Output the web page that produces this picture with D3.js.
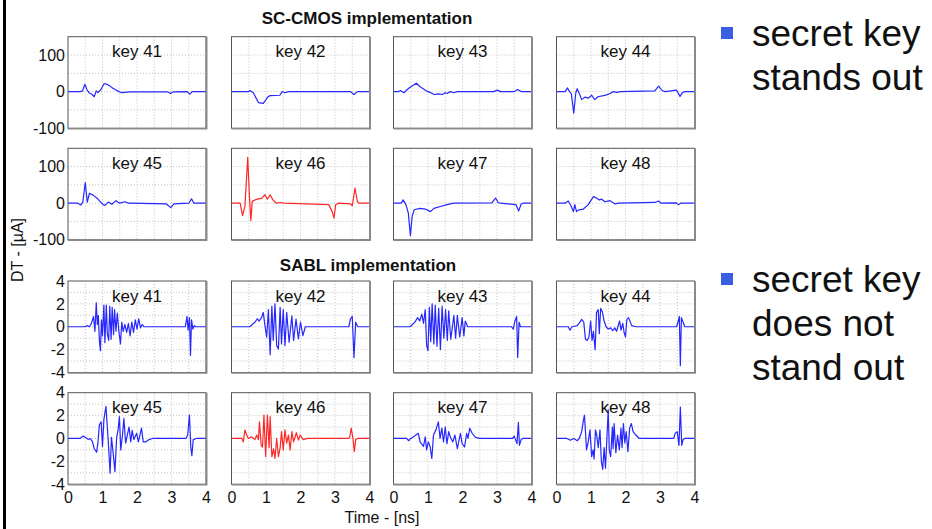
<!DOCTYPE html>
<html>
<head>
<meta charset="utf-8">
<script src="https://cdn.jsdelivr.net/npm/d3@7"></script>
<style>
  html, body { margin: 0; padding: 0; background: #fff; }
  svg { display: block; font-family: Arial, "Liberation Sans", Helvetica, sans-serif; }
</style>
</head>
<body>
<svg id="chart" width="932" height="529"></svg>
<script>
// ---- data -------------------------------------------------------------
const keys = [41, 42, 43, 44, 45, 46, 47, 48];
const secretKey = 46;
const timeTicks = [0, 1, 2, 3, 4];
const scTicks = [-100, 0, 100];
const sablTicks = [-4, -2, 0, 2, 4];

// SC-CMOS differential traces, [time ns, current uA]
const sc41 = [[0,0],[0.35,0],[0.42,2],[0.49,20],[0.55,5],[0.62,-4],[0.7,-8],[0.76,-14],[0.82,2],[0.87,-3],[0.95,5],[1.05,22],[1.15,19],[1.22,15],[1.3,9],[1.38,5],[1.48,0],[1.55,-3],[1.65,-2],[1.8,-1],[2.9,-1],[2.97,-5],[3.05,-1],[3.45,0],[3.53,-7],[3.6,0],[4,0]];
const sc42 = [[0,0],[0.5,0],[0.53,3],[0.63,-3],[0.78,-30],[0.92,-32],[1.0,-22],[1.05,-15],[1.12,-11],[1.4,-10],[1.47,0],[1.55,-3],[1.65,0],[3.45,0],[3.55,-8],[3.65,0],[4,0]];
const sc43 = [[0,0],[0.15,0],[0.2,3],[0.3,-3],[0.45,10],[0.66,23],[0.79,12],[0.95,2],[1.05,-2],[1.18,-8],[1.3,-6],[1.41,-8],[1.5,-3],[1.55,-5],[1.65,0],[1.75,-3],[1.85,0],[2.9,0],[3.01,4],[3.1,0],[3.5,0],[3.6,6],[3.7,0],[4,0]];
const sc44 = [[0,0],[0.25,0],[0.32,10],[0.38,0],[0.43,-6],[0.5,-59],[0.56,-3],[0.6,8],[0.66,-5],[0.73,-22],[0.82,-15],[0.92,-18],[1.02,-10],[1.11,-22],[1.2,-14],[1.36,-11],[1.45,-9],[1.55,-5],[1.65,0],[1.75,-2],[1.85,0],[2.85,2],[2.96,15],[3.06,3],[3.15,0],[3.48,4],[3.58,-13],[3.65,-3],[3.72,0],[4,0]];
const sc45 = [[0,0],[0.28,0],[0.37,-5],[0.43,3],[0.5,56],[0.56,3],[0.62,27],[0.73,22],[0.85,13],[0.97,0],[1.07,-6],[1.17,3],[1.27,-3],[1.39,7],[1.5,0],[1.65,4],[1.75,0],[2.85,-2],[2.98,-12],[3.07,-2],[3.5,0],[3.58,12],[3.65,0],[4,0]];
const sc46 = [[0,0],[0.25,0],[0.32,-34],[0.39,-8],[0.47,125],[0.52,18],[0.56,-47],[0.6,5],[0.68,9],[0.78,12],[0.88,14],[0.97,23],[1.04,11],[1.12,23],[1.2,9],[1.3,0],[1.42,2],[1.52,0],[2.82,-4],[2.92,-23],[2.97,-41],[3.02,-4],[3.1,0],[3.45,-2],[3.5,-7],[3.58,41],[3.65,4],[3.7,0],[4,0]];
const sc47 = [[0,0],[0.22,0],[0.28,9],[0.36,-4],[0.43,-27],[0.49,-89],[0.54,-36],[0.6,-18],[0.77,-14],[0.92,-16],[1.07,-23],[1.17,-14],[1.36,-9],[1.55,-4],[1.75,0],[2.85,1],[2.96,14],[3.03,2],[3.1,0],[3.55,-4],[3.63,-21],[3.7,-2],[3.75,0],[4,0]];
const sc48 = [[0,0],[0.25,0],[0.34,6],[0.42,-7],[0.49,-23],[0.53,-4],[0.58,-23],[0.65,-18],[0.78,-16],[0.92,-4],[1.07,18],[1.16,14],[1.24,9],[1.31,11],[1.4,4],[1.55,7],[1.7,-2],[1.8,0],[2.85,2],[2.96,6],[3.03,0],[3.47,1],[3.53,-4],[3.6,0],[4,0]];

// SABL differential traces, [time ns, current uA]
const sabl41 = [[0,0],[0.5,0],[0.55,0.1],[0.62,0],[0.68,0.3],[0.74,0.9],[0.78,-0.4],[0.82,2.1],[0.85,0.2],[0.88,1.0],[0.91,-1.2],[0.94,-2.1],[0.97,0.6],[1.0,-0.8],[1.04,1.9],[1.07,-1.4],[1.11,1.9],[1.14,-0.6],[1.18,-1.2],[1.21,1.8],[1.25,-1.1],[1.28,1.7],[1.32,-0.7],[1.35,1.5],[1.39,-0.4],[1.43,1.2],[1.47,-0.3],[1.52,-1.5],[1.56,0.4],[1.6,-0.4],[1.65,0.2],[1.7,-0.5],[1.75,0.3],[1.8,-0.8],[1.85,0.4],[1.9,-0.5],[1.95,0.6],[2.0,-0.2],[2.05,0.7],[2.1,-0.1],[2.15,0.2],[2.2,0],[3.4,0],[3.45,0.9],[3.48,-0.3],[3.52,0.8],[3.55,-2.5],[3.58,0.6],[3.62,-0.2],[3.66,0.1],[3.7,0],[4,0]];
const sabl42 = [[0,0],[0.53,0],[0.6,0.2],[0.68,0.4],[0.75,0.7],[0.8,0.5],[0.87,0.8],[0.92,1.25],[0.97,0.1],[1.02,-0.9],[1.07,1.5],[1.12,-2.45],[1.17,1.8],[1.21,-1.2],[1.26,2.0],[1.31,-1.65],[1.36,-1.95],[1.41,1.7],[1.45,-1.5],[1.5,1.5],[1.55,-1.65],[1.6,1.25],[1.67,-1.35],[1.75,0.95],[1.8,-1.2],[1.87,0.67],[1.94,-1.07],[2.0,0.4],[2.07,-0.78],[2.14,0],[2.2,0],[3.4,0],[3.45,0.7],[3.5,0.9],[3.55,-2.7],[3.6,0.4],[3.66,0],[4,0]];
const sabl43 = [[0,0],[0.48,0],[0.55,0.2],[0.62,0.4],[0.7,0.8],[0.76,0.5],[0.82,1.1],[0.87,0.3],[0.92,1.5],[0.96,-1.6],[1.0,-2.1],[1.04,1.7],[1.08,-1.3],[1.12,2.0],[1.17,-1.5],[1.21,1.9],[1.26,-1.7],[1.31,1.6],[1.36,-2.0],[1.41,1.8],[1.46,-1.0],[1.51,1.5],[1.56,-1.2],[1.6,1.4],[1.66,-1.1],[1.75,1.0],[1.8,-1.0],[1.85,1.0],[1.92,-0.9],[1.99,0.8],[2.04,-0.8],[2.08,0.5],[2.15,0],[2.23,0],[3.42,0],[3.47,-0.2],[3.52,0.5],[3.57,0.9],[3.6,-2.7],[3.64,0.4],[3.68,0],[4,0]];
const sabl44 = [[0,0],[0.34,0],[0.39,-0.3],[0.45,0],[0.6,0.1],[0.68,0.4],[0.73,0.65],[0.79,0.4],[0.84,-1.1],[0.89,-1.2],[0.94,-0.9],[0.99,0.5],[1.03,-1.2],[1.07,-0.4],[1.12,-2.0],[1.16,1.25],[1.21,1.5],[1.24,-0.6],[1.28,1.6],[1.33,1.3],[1.38,0.5],[1.44,0],[1.5,-0.2],[1.57,-0.1],[1.63,-0.35],[1.69,-0.1],[1.74,-0.4],[1.78,0],[1.83,0.5],[1.87,-0.3],[1.92,0.3],[1.96,-0.5],[2.0,-0.9],[2.04,0.65],[2.09,0.8],[2.18,0.1],[2.3,0],[3.48,0],[3.53,0.5],[3.56,0.9],[3.59,-3.4],[3.62,0.8],[3.67,0.4],[3.72,0],[4,0]];
const sabl45 = [[0,0],[0.35,0],[0.43,0.2],[0.5,0.1],[0.59,-0.1],[0.65,0],[0.71,-0.3],[0.76,-0.9],[0.83,-1.2],[0.87,-0.3],[0.91,1.2],[0.96,1.45],[1.0,-0.7],[1.04,1.65],[1.1,2.8],[1.14,1.0],[1.17,-0.4],[1.22,-3.05],[1.26,0.1],[1.31,-1.3],[1.36,-2.9],[1.41,0.1],[1.45,0.7],[1.49,1.9],[1.53,-1.0],[1.58,0.3],[1.62,1.75],[1.67,-0.4],[1.72,0.3],[1.77,1.0],[1.82,-0.3],[1.86,0.7],[1.91,-0.1],[1.99,0.45],[2.04,-0.3],[2.13,0.9],[2.18,-0.3],[2.25,-0.3],[2.35,-0.1],[2.45,0],[3.42,0],[3.47,0.3],[3.52,2.05],[3.56,-0.8],[3.59,-1.5],[3.63,-0.1],[3.72,0],[4,0]];
const sabl46 = [[0,0],[0.3,0],[0.34,-0.3],[0.39,0.75],[0.44,0.3],[0.49,0],[0.58,0.15],[0.68,-0.1],[0.73,0.3],[0.78,-0.1],[0.81,1.45],[0.86,-0.6],[0.9,-0.75],[0.94,2.05],[0.99,-1.6],[1.04,2.05],[1.09,-0.8],[1.12,1.9],[1.17,-1.6],[1.22,-0.9],[1.26,-1.75],[1.31,0],[1.36,-1.6],[1.41,-0.8],[1.45,0.6],[1.5,-1.0],[1.55,0.75],[1.6,-0.4],[1.65,0.3],[1.7,-1.0],[1.75,0.6],[1.8,-0.3],[1.88,0.5],[1.94,-0.15],[1.99,0.3],[2.08,-0.1],[2.2,0],[3.4,0],[3.43,0.15],[3.47,0.9],[3.52,0],[3.56,-1.15],[3.6,-0.1],[3.66,0],[4,0]];
const sabl47 = [[0,0],[0.38,0],[0.44,-0.2],[0.5,0],[0.58,0.15],[0.72,0.45],[0.77,-0.3],[0.87,-0.7],[0.92,0.15],[0.96,-1.0],[1.01,-0.3],[1.06,-0.7],[1.11,-1.75],[1.16,0.3],[1.23,0.75],[1.3,1.45],[1.35,0],[1.4,0.9],[1.45,-0.3],[1.5,1.0],[1.55,-0.45],[1.6,0.6],[1.65,0.1],[1.72,-0.3],[1.78,0.3],[1.85,-0.9],[1.94,0.45],[1.99,-0.45],[2.06,-0.75],[2.12,0.45],[2.16,0],[2.21,0.9],[2.28,0.45],[2.38,0.1],[2.5,0],[3.45,0],[3.5,0.2],[3.58,-0.45],[3.62,1.4],[3.65,-0.6],[3.7,-0.1],[3.75,0],[4,0]];
const sabl48 = [[0,0],[0.3,0],[0.4,-0.15],[0.5,0],[0.6,-0.2],[0.66,0],[0.73,0.6],[0.78,1.6],[0.81,2.05],[0.84,0.6],[0.87,-1.0],[0.92,-0.3],[0.97,0.75],[1.02,-1.6],[1.06,-1.0],[1.09,-1.8],[1.13,0.75],[1.16,0.4],[1.21,-0.8],[1.26,0.75],[1.3,-2.0],[1.34,-2.7],[1.38,-0.8],[1.42,-2.6],[1.46,0],[1.5,2.5],[1.53,-1.0],[1.57,-1.6],[1.62,1.0],[1.64,-0.9],[1.67,1.3],[1.72,-1.25],[1.77,0.3],[1.82,-1.0],[1.87,0.9],[1.9,-0.8],[1.94,1.3],[1.98,-0.4],[2.02,0.6],[2.07,-1.15],[2.12,0.9],[2.17,1.3],[2.22,0.6],[2.3,0.3],[2.4,0],[3.4,0],[3.44,0.45],[3.5,0.6],[3.55,-0.6],[3.59,2.75],[3.63,-0.6],[3.67,-0.1],[3.72,0],[4,0]];

const scSeries = [sc41, sc42, sc43, sc44, sc45, sc46, sc47, sc48];
const sablSeries = [sabl41, sabl42, sabl43, sabl44, sabl45, sabl46, sabl47, sabl48];

// ---- layout -----------------------------------------------------------
const svg = d3.select("#chart");
const panelW = 138, panelH = 91.5;
const colLeft = [68, 231.5, 393.5, 556.5];
const rowTop = [36.7, 148.3, 281, 392.7];
const fontStack = "Arial, 'Liberation Sans', Helvetica, sans-serif";

const x = d3.scaleLinear().domain([0, 4]).range([0, panelW]);
const yScaleSC = d3.scaleLinear().domain([-100, 150]).range([panelH, 0]);
const yScaleSABL = d3.scaleLinear().domain([-4, 4]).range([panelH, 0]);
const plainNum = d => String(d);   // hyphen-minus, as on the slide

// left frame rule
svg.append("rect").attr("x", 3).attr("y", 0).attr("width", 3).attr("height", 529).attr("fill", "#000");

function drawPanel(row, col, data, yScale, gridY, yTicks, key, showX) {
  const g = svg.append("g").attr("transform", `translate(${colLeft[col]},${rowTop[row]})`);
  g.append("rect").attr("width", panelW).attr("height", panelH).attr("fill", "#fff");

  // dotted grid
  const gx = d3.range(0.5, 4, 0.5);
  g.selectAll(".vg").data(gx).join("line")
    .attr("x1", d => x(d)).attr("x2", d => x(d))
    .attr("y1", 0).attr("y2", panelH)
    .attr("stroke", "#c4c4c4").attr("stroke-width", 1).attr("stroke-dasharray", "1,2");
  g.selectAll(".hg").data(gridY).join("line")
    .attr("x1", 0).attr("x2", panelW)
    .attr("y1", d => yScale(d)).attr("y2", d => yScale(d))
    .attr("stroke", "#c4c4c4").attr("stroke-width", 1).attr("stroke-dasharray", "1,2");

  const isSecret = key === secretKey;
  const line = d3.line().x(d => x(d[0])).y(d => yScale(d[1]));
  g.append("path").datum(data)
    .attr("d", line)
    .attr("fill", "none")
    .attr("stroke", isSecret ? "#ff2626" : "#2626ff")
    .attr("stroke-width", 1.2)
    .attr("stroke-linejoin", "round");

  // frame
  g.append("rect").attr("width", panelW).attr("height", panelH)
    .attr("fill", "none").attr("stroke", "#555").attr("stroke-width", 1);
  g.append("line").attr("x1", panelW + 0.5).attr("x2", panelW + 0.5).attr("y1", 0).attr("y2", panelH + 1)
    .attr("stroke", "#8a8a8a").attr("stroke-width", 2);
  g.append("line").attr("x1", 0).attr("x2", panelW + 1).attr("y1", panelH + 0.5).attr("y2", panelH + 0.5)
    .attr("stroke", "#8a8a8a").attr("stroke-width", 1.5);

  g.append("text").attr("x", panelW / 2).attr("y", 20.5)
    .attr("text-anchor", "middle").attr("font-size", 17).attr("fill", "#111")
    .text("key " + key);

  if (col === 0) {
    const ax = g.append("g").call(d3.axisLeft(yScale).tickValues(yTicks).tickSize(0).tickPadding(3).tickFormat(plainNum));
    ax.select(".domain").remove();
    ax.selectAll("text").attr("font-size", 16).attr("fill", "#111").attr("font-family", fontStack);
  }
  if (showX) {
    const ax = g.append("g").attr("transform", `translate(0,${panelH})`)
      .call(d3.axisBottom(x).tickValues(timeTicks).tickSize(0).tickPadding(7).tickFormat(plainNum));
    ax.select(".domain").remove();
    ax.selectAll("text").attr("font-size", 16).attr("fill", "#111").attr("font-family", fontStack);
  }
}

keys.forEach((k, i) => {
  const col = i % 4, r = Math.floor(i / 4);
  drawPanel(r, col, scSeries[i], yScaleSC, [-50, 0, 50, 100], scTicks, k, false);
  drawPanel(r + 2, col, sablSeries[i], yScaleSABL, [-3, -2, -1, 0, 1, 2, 3], sablTicks, k, r === 1);
});

// titles
svg.append("text").attr("x", 367).attr("y", 24).attr("text-anchor", "middle")
  .attr("font-size", 17).attr("font-weight", "bold").attr("fill", "#111")
  .text("SC-CMOS implementation");
svg.append("text").attr("x", 368).attr("y", 271).attr("text-anchor", "middle")
  .attr("font-size", 17).attr("font-weight", "bold").attr("fill", "#111")
  .text("SABL implementation");

// axis titles
svg.append("text").attr("x", 382).attr("y", 523).attr("text-anchor", "middle")
  .attr("font-size", 16).attr("fill", "#111").text("Time - [ns]");
svg.append("text").attr("transform", "translate(23,250) rotate(-90)")
  .attr("text-anchor", "middle").attr("font-size", 16).attr("fill", "#111")
  .text("DT - [\u00b5A]");

// side notes
const notes = [
  { y: 46, lines: ["secret key", "stands out"] },
  { y: 292, lines: ["secret key", "does not", "stand out"] }
];
notes.forEach(n => {
  svg.append("rect").attr("x", 721).attr("y", n.y - 19).attr("width", 12).attr("height", 12).attr("fill", "#3b5fe0");
  n.lines.forEach((t, j) => {
    svg.append("text").attr("x", 752).attr("y", n.y + j * 44)
      .attr("font-size", 37).attr("fill", "#111").text(t);
  });
});
</script>
</body>
</html>
